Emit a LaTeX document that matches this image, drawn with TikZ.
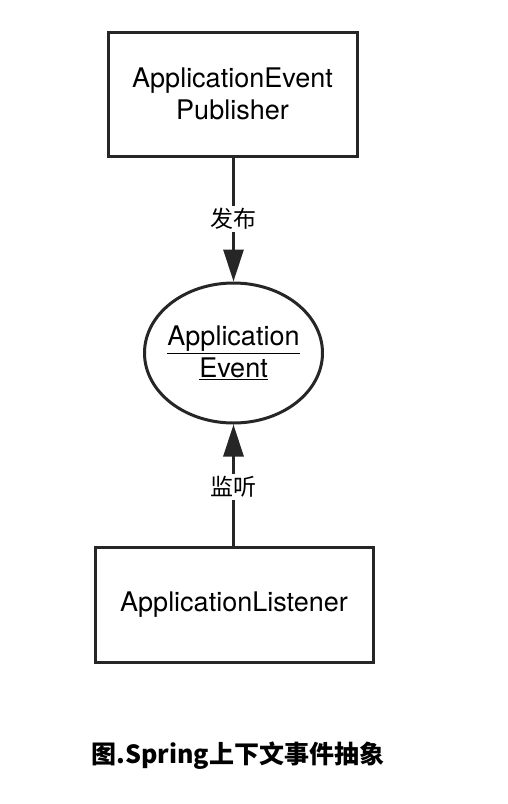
\documentclass[tikz,border=0pt]{standalone}
\usepackage{fontspec}
\setmainfont{TeX Gyre Heros}
\newfontfamily\cjk{Noto Sans CJK SC}
\usetikzlibrary{shapes.geometric,arrows.meta}
\tikzset{
  boxnode/.style={draw=black!85, line width=3pt, rectangle, align=center, font=\fontsize{27}{32}\selectfont},
  evnode/.style={draw=black!85, line width=3pt, ellipse, align=center, font=\fontsize{27}{32}\selectfont, inner sep=0pt},
  conn/.style={draw=black!85, line width=3pt, -{Triangle[length=32pt,width=20pt]}},
  lbl/.style={fill=white, inner sep=2pt, font=\cjk\fontsize{23}{23}\selectfont},
}
\begin{document}
\begin{tikzpicture}[x=1pt,y=-1pt]
\useasboundingbox[fill=white] (0,0) rectangle (508,804);
\node[boxnode, minimum width=249pt, minimum height=124pt] (pub) at (232.5,94) {ApplicationEvent\\Publisher};
\node[evnode, minimum width=178pt, minimum height=140pt] (ev) at (233.5,353) {\makebox[0pt]{\underline{Application}}\\\makebox[0pt]{\underline{Event}}};
\node[boxnode, minimum width=278pt, minimum height=115pt] (lis) at (234,604.5) {ApplicationListener};
\draw[conn] (ev.north |- pub.south) -- (ev.north);
\draw[conn] (ev.south |- lis.north) -- (ev.south);
\node[lbl] (l1) at (233.5,219) {发布};
\node[lbl] (l2) at (233.5,487) {监听};
\node[font=\cjk\bfseries\fontsize{25}{25}\selectfont] (cap) at (238,756) {图.Spring上下文事件抽象};
\end{tikzpicture}
\end{document}
